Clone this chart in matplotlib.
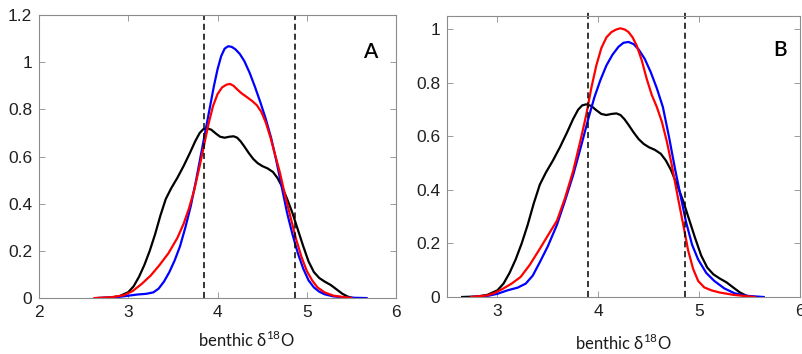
import matplotlib
matplotlib.use('Agg')
import matplotlib.pyplot as plt

plt.rcParams['font.family'] = ['Liberation Sans', 'DejaVu Sans']

# curva negra (igual en los dos paneles)
black_x = [2.65, 2.8, 2.9, 3.0, 3.06, 3.12, 3.18, 3.24, 3.3, 3.36, 3.42, 3.48, 3.55, 3.62, 3.69,
           3.75, 3.8, 3.84, 3.88, 3.93, 3.98, 4.03, 4.08, 4.13, 4.18, 4.22, 4.26, 4.3, 4.35, 4.4,
           4.45, 4.5, 4.56, 4.62, 4.67, 4.72, 4.78, 4.84, 4.9, 4.96, 5.02, 5.08, 5.14, 5.2, 5.27,
           5.34, 5.4, 5.46, 5.52]
black_y = [0, 0.002, 0.008, 0.025, 0.05, 0.09, 0.14, 0.2, 0.27, 0.35, 0.42, 0.465, 0.51, 0.56, 0.615,
           0.665, 0.7, 0.716, 0.72, 0.714, 0.698, 0.684, 0.68, 0.684, 0.686, 0.68, 0.664, 0.643, 0.615, 0.59,
           0.572, 0.56, 0.55, 0.535, 0.51, 0.475, 0.42, 0.36, 0.29, 0.22, 0.155, 0.11, 0.085, 0.07, 0.055,
           0.035, 0.018, 0.006, 0]

# panel A
blue_a_x = [2.65, 2.85, 3.0, 3.1, 3.2, 3.28, 3.34, 3.4, 3.46, 3.52, 3.58, 3.64, 3.7, 3.76, 3.82,
            3.87, 3.92, 3.96, 4.0, 4.04, 4.08, 4.12, 4.16, 4.2, 4.25, 4.3, 4.36, 4.42, 4.48, 4.54,
            4.6, 4.66, 4.72, 4.78, 4.84, 4.9, 4.96, 5.02, 5.08, 5.14, 5.2, 5.3, 5.45, 5.67]
blue_a_y = [0, 0.003, 0.01, 0.015, 0.018, 0.024, 0.04, 0.07, 0.11, 0.16, 0.22, 0.3, 0.39, 0.5, 0.62,
            0.72, 0.82, 0.9, 0.97, 1.025, 1.058, 1.068, 1.065, 1.055, 1.035, 1.005, 0.955, 0.895, 0.83, 0.76,
            0.68, 0.58, 0.47, 0.36, 0.27, 0.19, 0.125, 0.075, 0.045, 0.027, 0.016, 0.007, 0.002, 0]
red_a_x = [2.62, 2.8, 2.95, 3.05, 3.15, 3.25, 3.35, 3.45, 3.55, 3.62, 3.68, 3.74, 3.8, 3.85, 3.9,
           3.95, 4.0, 4.05, 4.1, 4.14, 4.18, 4.22, 4.27, 4.33, 4.39, 4.44, 4.49, 4.54, 4.59, 4.64,
           4.7, 4.76, 4.82, 4.88, 4.94, 5.0, 5.06, 5.12, 5.2, 5.3, 5.5]
red_a_y = [0, 0.003, 0.012, 0.03, 0.06, 0.095, 0.14, 0.19, 0.255, 0.315, 0.38, 0.46, 0.56, 0.65, 0.74,
           0.815, 0.865, 0.893, 0.905, 0.908, 0.9, 0.885, 0.868, 0.852, 0.835, 0.818, 0.79, 0.745, 0.685, 0.615,
           0.53, 0.43, 0.34, 0.25, 0.175, 0.115, 0.075, 0.045, 0.024, 0.01, 0]
lines_a = [3.85, 4.87]

# panel B
blue_b_x = [2.74, 2.9, 3.0, 3.1, 3.2, 3.28, 3.35, 3.42, 3.5, 3.59, 3.67, 3.75, 3.83, 3.9, 3.96,
            4.02, 4.08, 4.14, 4.2, 4.25, 4.3, 4.35, 4.4, 4.46, 4.52, 4.58, 4.64, 4.7, 4.76, 4.82,
            4.87, 4.93, 4.99, 5.07, 5.15, 5.25, 5.35, 5.45, 5.64]
blue_b_y = [0, 0.004, 0.012, 0.025, 0.035, 0.05, 0.08, 0.13, 0.19, 0.27, 0.36, 0.455, 0.565, 0.665, 0.745,
            0.81, 0.865, 0.905, 0.935, 0.95, 0.953, 0.945, 0.925, 0.89, 0.84, 0.78, 0.71, 0.6, 0.48, 0.37,
            0.28, 0.195, 0.14, 0.09, 0.06, 0.032, 0.014, 0.005, 0]
red_b_x = [2.74, 2.9, 2.97, 3.05, 3.14, 3.23, 3.32, 3.42, 3.5, 3.59, 3.67, 3.75, 3.82, 3.88, 3.93,
           3.98, 4.03, 4.08, 4.13, 4.18, 4.22, 4.26, 4.3, 4.34, 4.38, 4.43, 4.48, 4.53, 4.58, 4.63,
           4.68, 4.73, 4.79, 4.85, 4.89, 4.94, 4.99, 5.05, 5.12, 5.2, 5.34, 5.55]
red_b_y = [0, 0.006, 0.015, 0.03, 0.05, 0.075, 0.12, 0.18, 0.23, 0.285, 0.37, 0.47, 0.58, 0.68, 0.78,
           0.865, 0.93, 0.97, 0.99, 1.0, 1.004, 1.0, 0.99, 0.97, 0.94, 0.885, 0.815, 0.755, 0.71, 0.655,
           0.58, 0.49, 0.37, 0.255, 0.175, 0.105, 0.06, 0.036, 0.025, 0.017, 0.008, 0]
lines_b = [3.9, 4.86]

xticks_a = [2, 3, 4, 5, 6]
yticks_a = [0, 0.2, 0.4, 0.6, 0.8, 1, 1.2]
xticks_b = [3, 4, 5, 6]
yticks_b = [0, 0.2, 0.4, 0.6, 0.8, 1]

label_txt = r'benthic δ$^{\mathregular{18}}$O'


def style_axes(ax):
    for s in ax.spines.values():
        s.set_color('#8c8c8c')
        s.set_linewidth(0.8)
    ax.tick_params(direction='in', top=True, right=True, length=4, width=0.6,
                   color='#8c8c8c', labelcolor='#202020', labelsize=12.5, pad=5)


def fmt(v):
    return ('%g' % v)


fig = plt.figure(figsize=(8.03, 3.54), dpi=100)

# Panel A
ax1 = fig.add_axes([0.0486, 0.158, 0.4446, 0.7994])
ax1.plot(black_x, black_y, color='black', lw=1.6)
ax1.plot(blue_a_x, blue_a_y, color='blue', lw=1.6)
ax1.plot(red_a_x, red_a_y, color='red', lw=1.6)
for v in lines_a:
    ax1.axvline(v, color='black', lw=1.1, ls=(0, (4, 2.5)))
ax1.set_xlim(2, 6)
ax1.set_ylim(0, 1.2)
ax1.set_xticks(xticks_a)
ax1.set_xticklabels([fmt(v) for v in xticks_a])
ax1.set_yticks(yticks_a)
ax1.set_yticklabels([fmt(v) for v in yticks_a])
style_axes(ax1)
ax1.text(0.58, -0.112, label_txt, transform=ax1.transAxes, ha='center', va='top',
         fontsize=12, family=['Lato', 'DejaVu Sans'], color='#1a1a1a')
ax1.text(0.927, 0.869, 'A', transform=ax1.transAxes, ha='center', va='center',
         fontsize=15, family=['Lato', 'DejaVu Sans'], fontweight='semibold')

# Panel B
ax2 = fig.add_axes([0.5567, 0.161, 0.4396, 0.7938])
ax2.plot(black_x, black_y, color='black', lw=1.6)
ax2.plot(blue_b_x, blue_b_y, color='blue', lw=1.6)
ax2.plot(red_b_x, red_b_y, color='red', lw=1.6)
for v in lines_b:
    ax2.axvline(v, color='black', lw=1.1, ls=(0, (4, 2.5)), ymax=1.015, clip_on=False)
ax2.set_xlim(2.5, 6)
ax2.set_ylim(0, 1.05)
ax2.set_xticks(xticks_b)
ax2.set_xticklabels([fmt(v) for v in xticks_b])
ax2.set_yticks(yticks_b)
ax2.set_yticklabels([fmt(v) for v in yticks_b])
style_axes(ax2)
ax2.text(0.5, -0.128, label_txt, transform=ax2.transAxes, ha='center', va='top',
         fontsize=12, family=['Lato', 'DejaVu Sans'], color='#1a1a1a')
ax2.text(0.943, 0.879, 'B', transform=ax2.transAxes, ha='center', va='center',
         fontsize=15, family=['Lato', 'DejaVu Sans'], fontweight='semibold')

plt.savefig('out.png', dpi=100)
